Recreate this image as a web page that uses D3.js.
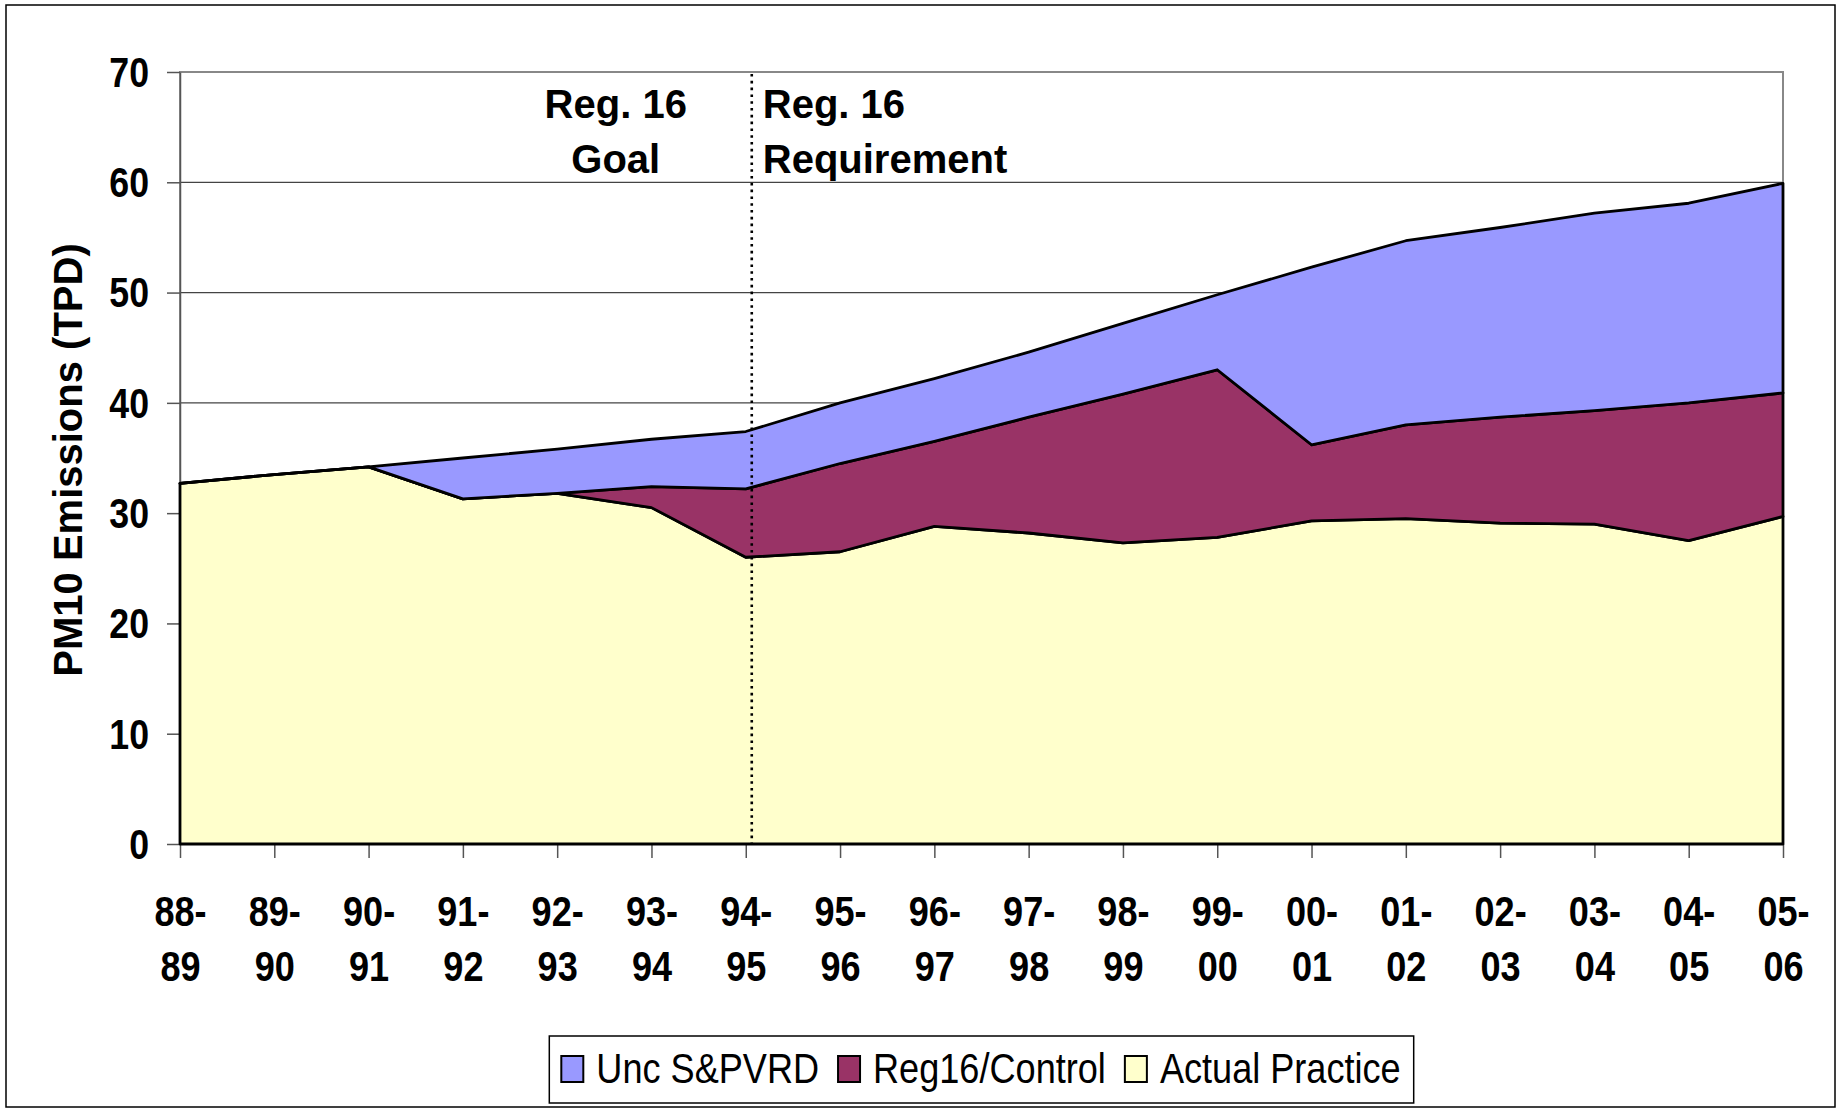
<!DOCTYPE html>
<html>
<head>
<meta charset="utf-8">
<script src="https://cdn.jsdelivr.net/npm/d3@7"></script>
<style>
body { margin: 0; background: #fff; }
text { font-family: "Liberation Sans", Arial, sans-serif; }
</style>
</head>
<body>
<div id="chart"></div>
<script>
// PM10 emissions by season (TPD), stacked
const seasons = ['88-89','89-90','90-91','91-92','92-93','93-94','94-95','95-96','96-97',
                 '97-98','98-99','99-00','00-01','01-02','02-03','03-04','04-05','05-06'];
const actualPractice = [32.7,33.5,34.2,31.3,31.8,30.5,26.0,26.5,28.8,28.2,27.3,27.8,29.3,29.5,29.1,29.0,27.5,29.7];
const reg16Control   = [0,0,0,0,0,1.9,6.2,8.0,7.7,10.5,13.5,15.2,6.9,8.5,9.6,10.3,12.5,11.2];
const uncSPVRD       = [0,0,0,3.7,4.0,4.3,5.2,5.5,5.7,5.9,6.4,6.8,16.1,16.7,17.2,17.9,18.1,19.0];
const yTicks = [0,10,20,30,40,50,60,70];

const seriesNames  = ['Unc S&PVRD','Reg16/Control','Actual Practice'];
const seriesKeys   = ['unc','reg16','actual'];
const seriesColors = {unc:'#9999FF', reg16:'#993366', actual:'#FFFFCC'};

const width = 1842, height = 1110;
const plotLeft = 180, plotRight = 1783, plotTop = 72, plotBottom = 844;

const svg = d3.select('#chart')
              .append('svg')
              .attr('width', width)
              .attr('height', height);

// outer frame
svg.append('rect')
   .attr('x', 6).attr('y', 5)
   .attr('width', 1829).attr('height', 1102)
   .style('fill', 'none')
   .style('stroke', '#000')
   .style('stroke-width', 1.5);

let x = d3.scalePoint().domain(seasons).range([plotLeft, plotRight]);
let y = d3.scaleLinear().domain([0, 70]).range([plotBottom, plotTop]);

// gridlines
svg.append('g')
   .selectAll('line')
   .data(yTicks.filter(d => d > 0 && d < 70))
   .enter()
   .append('line')
   .attr('x1', plotLeft).attr('x2', plotRight)
   .attr('y1', d => y(d)).attr('y2', d => y(d))
   .style('stroke', '#444')
   .style('stroke-width', 1.2);

// plot area border
svg.append('rect')
   .attr('x', plotLeft).attr('y', plotTop)
   .attr('width', plotRight - plotLeft).attr('height', plotBottom - plotTop)
   .style('fill', 'none')
   .style('stroke', '#888')
   .style('stroke-width', 2);

// axes
let yAxis = d3.axisLeft(y).tickValues(yTicks).tickSize(13).tickSizeOuter(0);
let yAxisGroup = svg.append('g')
                    .attr('transform', 'translate(' + plotLeft + ',0)')
                    .call(yAxis);
yAxisGroup.selectAll('.tick line').style('stroke', '#555').style('stroke-width', 1.5);
yAxisGroup.select('.domain').style('stroke', '#555').style('stroke-width', 1.5);
yAxisGroup.selectAll('.tick text')
          .attr('x', -31 / 0.85)
          .attr('dy', '0.34em')
          .attr('transform', 'scale(0.85,1)')
          .style('font-size', '42px')
          .style('font-weight', 'bold')
          .style('fill', '#000');

let xAxis = d3.axisBottom(x).tickSize(14).tickSizeOuter(0).tickFormat('');
let xAxisGroup = svg.append('g')
                    .attr('transform', 'translate(0,' + plotBottom + ')')
                    .call(xAxis);
xAxisGroup.selectAll('.tick line').style('stroke', '#555').style('stroke-width', 1.5);
xAxisGroup.select('.domain').style('stroke', '#555');
xAxisGroup.selectAll('.tick text')
          .attr('y', null).attr('dy', null)
          .attr('transform', 'scale(0.84,1)')
          .style('font-size', '43px')
          .style('font-weight', 'bold')
          .style('fill', '#000')
          .each(function(d) {
              let parts = d.split('-');
              let t = d3.select(this);
              t.append('tspan').attr('x', 0).attr('y', 82).text(parts[0] + '-');
              t.append('tspan').attr('x', 0).attr('y', 137).text(parts[1]);
          });

// stacked areas
let rows = seasons.map((s, i) => ({season: s, actual: actualPractice[i], reg16: reg16Control[i], unc: uncSPVRD[i]}));
let stack = d3.stack().keys(['actual', 'reg16', 'unc']);
let layers = stack(rows);

let area = d3.area()
             .x(d => x(d.data.season))
             .y0(d => y(d[0]))
             .y1(d => y(d[1]));

svg.append('g')
   .selectAll('path')
   .data(layers)
   .enter()
   .append('path')
   .attr('d', area)
   .style('fill', d => seriesColors[d.key])
   .style('stroke', '#000')
   .style('stroke-width', 2.8)
   .style('stroke-linejoin', 'round');

// Reg. 16 boundary
let divX = x('94-95') + 6;
svg.append('line')
   .attr('x1', divX).attr('x2', divX)
   .attr('y1', plotTop + 2).attr('y2', plotBottom + 5)
   .style('stroke', '#000')
   .style('stroke-width', 2.6)
   .style('stroke-dasharray', '2.6,4.2');

let notes = [
    {lines: ['Reg. 16', 'Goal'], x: divX - 136, anchor: 'middle'},
    {lines: ['Reg. 16', 'Requirement'], x: divX + 11, anchor: 'start'}
];
notes.forEach(n => {
    n.lines.forEach((l, k) => {
        svg.append('text')
           .attr('x', n.x)
           .attr('y', plotTop + 46 + k * 55)
           .style('text-anchor', n.anchor)
           .style('font-size', '40px')
           .style('font-weight', 'bold')
           .text(l);
    });
});

// y axis title
svg.append('text')
   .attr('transform', 'translate(82,460) rotate(-90)')
   .style('text-anchor', 'middle')
   .style('font-size', '40px')
   .style('font-weight', 'bold')
   .text('PM10 Emissions (TPD)');

// legend
let legend = svg.append('g');
let cursor = 0;
seriesKeys.forEach((k, i) => {
    legend.append('rect')
          .attr('x', cursor).attr('y', 1056)
          .attr('width', 22).attr('height', 26)
          .style('fill', seriesColors[k])
          .style('stroke', '#000')
          .style('stroke-width', 2);
    let t = legend.append('text')
                  .attr('transform', 'translate(' + (cursor + 35) + ',1083) scale(0.86,1)')
                  .style('font-size', '42px')
                  .text(seriesNames[i]);
    let w = t.node().getComputedTextLength() * 0.86;
    cursor = cursor + 35 + w + (i < seriesKeys.length - 1 ? 19 : 0);
});
let boxW = cursor + 12 + 13;
let boxX = (plotLeft + plotRight) / 2 - boxW / 2;
legend.attr('transform', 'translate(' + (boxX + 12) + ',0)');
legend.insert('rect', ':first-child')
      .attr('x', -12).attr('y', 1036)
      .attr('width', boxW).attr('height', 67)
      .style('fill', '#fff')
      .style('stroke', '#000')
      .style('stroke-width', 1.5);
</script>
</body>
</html>
